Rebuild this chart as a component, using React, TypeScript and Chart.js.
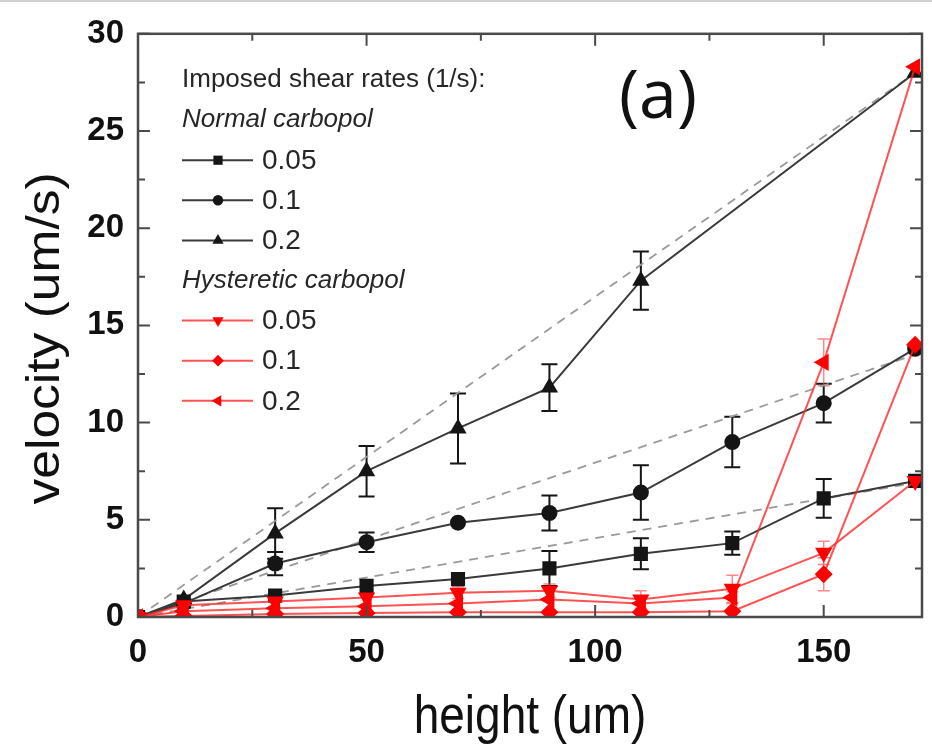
import React, { useEffect, useRef } from 'react';
import { Chart, registerables } from 'chart.js';

Chart.register(...registerables);

// ---------- data ----------
const heights = [0, 10, 30, 50, 70, 90, 110, 130, 150, 170];

const normal005 = [0, 0.8, 1.1, 1.6, 1.95, 2.5, 3.25, 3.8, 6.1, 7.0];
const normal005Err = [0, 0.2, 0.2, 0.2, 0.2, 0.9, 0.8, 0.6, 1.0, 0.2];
const normal01 = [0, 0.7, 2.75, 3.85, 4.85, 5.35, 6.4, 9.0, 11.0, 13.8];
const normal01Err = [0, 0.2, 0.6, 0.5, 0.2, 0.9, 1.4, 1.3, 1.0, 0.2];
const normal02 = [0, 0.9, 4.3, 7.5, 9.7, 11.8, 17.3, null, null, 28.0];
const normal02Err = [0, 0.2, 1.3, 1.3, 1.8, 1.2, 1.5, null, null, 0.2];

const hyst005 = [0, 0.6, 0.8, 1.0, 1.25, 1.35, 0.9, 1.45, 3.3, 7.0];
const hyst005Err = [0, 0.1, 0.15, 0.2, 0.3, 0.35, 0.45, 0.7, 0.6, 0.2];
const hyst01 = [0, 0.05, 0.15, 0.2, 0.25, 0.25, 0.25, 0.3, 2.2, 14.0];
const hyst01Err = [0, 0.1, 0.1, 0.1, 0.1, 0.1, 0.1, 0.2, 0.85, 0.2];
const hyst02 = [0, 0.3, 0.45, 0.55, 0.7, 0.9, 0.7, 1.0, 13.1, 28.3];
const hyst02Err = [0, 0.1, 0.15, 0.2, 0.2, 0.2, 0.3, 0.3, 1.2, 0.2];

const fitHeights = [0, 170];
const fit005 = [0, 6.9];
const fit01 = [0, 13.5];
const fit02 = [0, 28.0];

const xTicks = [0, 50, 100, 150];
const xMinorTicks = [25, 75, 125];
const yTicks = [0, 5, 10, 15, 20, 25, 30];
const yMinorTicks = [2.5, 7.5, 12.5, 17.5, 22.5, 27.5];

const legendHeader = 'Imposed shear rates (1/s):';
const groupTitles = ['Normal carbopol', 'Hysteretic carbopol'];
const rateLabels = ['0.05', '0.1', '0.2'];
const panelLabel = '(a)';
const xTitle = 'height (um)';
const yTitle = 'velocity (um/s)';

// ---------- styles ----------
const SANS = "'Liberation Sans', Arial, sans-serif";
const BLACK = '#151515';
const BLACK_LINE = '#3a3a3a';
const RED = '#ff0000';
const RED_LINE = 'rgba(255,40,40,0.8)';
const RED_ERR = 'rgba(255,70,70,0.65)';

const markerStyles = [
  { style: 'rect', rotation: 0, radius: 10 },
  { style: 'circle', rotation: 0, radius: 8 },
  { style: 'triangle', rotation: 0, radius: 10 },
];
const hystMarkerStyles = [
  { style: 'triangle', rotation: 180, radius: 10 },
  { style: 'rectRot', rotation: 0, radius: 9 },
  { style: 'triangle', rotation: 270, radius: 10 },
];

const toPoints = (xs: number[], ys: (number | null)[]) =>
  xs.map((x, i) => ({ x, y: ys[i] })).filter((p) => p.y !== null) as { x: number; y: number }[];

function drawMarker(ctx: CanvasRenderingContext2D, style: string, rotation: number, x: number, y: number, r: number, color: string) {
  ctx.save();
  ctx.fillStyle = color;
  ctx.beginPath();
  if (style === 'circle') {
    ctx.arc(x, y, r, 0, Math.PI * 2);
  } else if (style === 'rect') {
    const s = r / Math.SQRT2;
    ctx.rect(x - s, y - s, 2 * s, 2 * s);
  } else if (style === 'rectRot') {
    ctx.moveTo(x, y - r);
    ctx.lineTo(x + r, y);
    ctx.lineTo(x, y + r);
    ctx.lineTo(x - r, y);
    ctx.closePath();
  } else if (style === 'triangle') {
    let a = (rotation * Math.PI) / 180;
    ctx.moveTo(x + Math.sin(a) * r, y - Math.cos(a) * r);
    for (let k = 0; k < 2; k++) {
      a += (2 * Math.PI) / 3;
      ctx.lineTo(x + Math.sin(a) * r, y - Math.cos(a) * r);
    }
    ctx.closePath();
  }
  ctx.fill();
  ctx.restore();
}

const errorSets = [
  { values: normal005, errors: normal005Err, color: BLACK, width: 2, cap: 8 },
  { values: normal01, errors: normal01Err, color: BLACK, width: 2, cap: 8 },
  { values: normal02, errors: normal02Err, color: BLACK, width: 2, cap: 8 },
  { values: hyst005, errors: hyst005Err, color: RED_ERR, width: 1.5, cap: 6 },
  { values: hyst01, errors: hyst01Err, color: RED_ERR, width: 1.5, cap: 6 },
  { values: hyst02, errors: hyst02Err, color: RED_ERR, width: 1.5, cap: 6 },
];

const errorPlugin = {
  id: 'errorBars',
  beforeDatasetsDraw(chart: any) {
    const { ctx, scales, chartArea } = chart;
    const xs = scales.x;
    const ys = scales.y;
    ctx.save();
    ctx.beginPath();
    ctx.rect(chartArea.left, chartArea.top - 10, chartArea.right - chartArea.left, chartArea.bottom - chartArea.top + 10);
    ctx.clip();
    errorSets.forEach((set) => {
      ctx.strokeStyle = set.color;
      ctx.lineWidth = set.width;
      set.values.forEach((v, i) => {
        const e = set.errors[i];
        if (v === null || e === null || !e || e < 0.25) return;
        const px = xs.getPixelForValue(heights[i]);
        const top = ys.getPixelForValue((v as number) + (e as number));
        const bot = ys.getPixelForValue((v as number) - (e as number));
        ctx.beginPath();
        ctx.moveTo(px, top);
        ctx.lineTo(px, bot);
        ctx.moveTo(px - set.cap, top);
        ctx.lineTo(px + set.cap, top);
        ctx.moveTo(px - set.cap, bot);
        ctx.lineTo(px + set.cap, bot);
        ctx.stroke();
      });
    });
    ctx.restore();
  },
};

const framePlugin = {
  id: 'frame',
  afterDatasetsDraw(chart: any) {
    const { ctx, chartArea, scales } = chart;
    const { left, right, top, bottom } = chartArea;
    ctx.save();
    ctx.strokeStyle = '#4a4a4a';
    ctx.lineWidth = 2.5;
    ctx.strokeRect(left, top, right - left, bottom - top);
    ctx.lineWidth = 2;
    const major = 12;
    const minor = 7;
    ctx.beginPath();
    const xt = (vals: number[], len: number) =>
      vals.forEach((v) => {
        const px = scales.x.getPixelForValue(v);
        ctx.moveTo(px, bottom);
        ctx.lineTo(px, bottom - len);
        ctx.moveTo(px, top);
        ctx.lineTo(px, top + len);
      });
    const yt = (vals: number[], len: number) =>
      vals.forEach((v) => {
        const py = scales.y.getPixelForValue(v);
        ctx.moveTo(left, py);
        ctx.lineTo(left + len, py);
        ctx.moveTo(right, py);
        ctx.lineTo(right - len, py);
      });
    xt(xTicks, major);
    xt(xMinorTicks, minor);
    yt(yTicks, major);
    yt(yMinorTicks, minor);
    ctx.stroke();
    ctx.strokeStyle = '#d0d0d0';
    ctx.lineWidth = 2;
    ctx.beginPath();
    ctx.moveTo(0, 1);
    ctx.lineTo(chart.width, 1);
    ctx.stroke();
    ctx.restore();
  },
};

// axis titles: the source figure is stretched vertically, so the text is drawn with that stretch
const titlePlugin = {
  id: 'axisTitles',
  afterDraw(chart: any) {
    const ctx = chart.ctx as CanvasRenderingContext2D;
    const { chartArea } = chart;
    ctx.save();
    ctx.fillStyle = '#111';
    ctx.font = `46px ${SANS}`;
    ctx.textAlign = 'center';
    ctx.textBaseline = 'middle';
    // x title
    ctx.save();
    ctx.translate((chartArea.left + chartArea.right) / 2, 718);
    ctx.scale(1, 1.18);
    ctx.fillText(xTitle, 0, 0);
    ctx.restore();
    // y title
    ctx.save();
    ctx.translate(46, (chartArea.top + chartArea.bottom) / 2 + 13);
    ctx.rotate(-Math.PI / 2);
    ctx.scale(1.12, 1);
    ctx.fillText(yTitle, 0, 0);
    ctx.restore();
    ctx.restore();
  },
};

const legendPlugin = {
  id: 'customLegend',
  afterDraw(chart: any) {
    const ctx = chart.ctx as CanvasRenderingContext2D;
    const x0 = 182;
    const lineEnd = 253;
    const markX = 218;
    const textX = 262;
    const y0 = 80;
    const step = 40.1;
    ctx.save();
    ctx.textBaseline = 'middle';
    ctx.textAlign = 'left';
    ctx.fillStyle = '#262626';
    ctx.font = `26px ${SANS}`;
    ctx.fillText(legendHeader, x0, y0);
    let row = 1;
    groupTitles.forEach((g, gi) => {
      ctx.font = `italic 26px ${SANS}`;
      ctx.fillStyle = '#262626';
      ctx.fillText(g, x0, y0 + row * step);
      row++;
      rateLabels.forEach((lab, li) => {
        const y = y0 + row * step;
        const col = gi === 0 ? BLACK : RED;
        const lineCol = gi === 0 ? BLACK_LINE : RED_LINE;
        ctx.strokeStyle = lineCol;
        ctx.lineWidth = 2;
        ctx.beginPath();
        ctx.moveTo(x0, y);
        ctx.lineTo(lineEnd, y);
        ctx.stroke();
        const m = gi === 0 ? markerStyles[li] : hystMarkerStyles[li];
        drawMarker(ctx, m.style, m.rotation, markX, y, m.radius * 0.65, col);
        ctx.fillStyle = '#262626';
        ctx.font = `28px ${SANS}`;
        ctx.fillText(lab, textX, y + 1);
        row++;
      });
    });
    ctx.font = `68px 'Open Sans', sans-serif`;
    ctx.fillStyle = '#111';
    ctx.textAlign = 'center';
    ctx.fillText(panelLabel, 658, 99);
    ctx.restore();
  },
};

export default function App() {
  const ref = useRef<HTMLCanvasElement | null>(null);

  useEffect(() => {
    document.body.style.margin = '0';
    if (!ref.current) return;

    const normalSets = [normal005, normal01, normal02].map((vals, i) => ({
      label: 'Normal ' + rateLabels[i],
      data: toPoints(heights, vals),
      borderColor: BLACK_LINE,
      backgroundColor: BLACK,
      borderWidth: 2,
      pointStyle: markerStyles[i].style,
      rotation: markerStyles[i].rotation,
      pointRadius: markerStyles[i].radius,
      pointBorderWidth: 0,
      pointBackgroundColor: BLACK,
      order: 2,
    }));
    const hystSets = [hyst005, hyst01, hyst02].map((vals, i) => ({
      label: 'Hysteretic ' + rateLabels[i],
      data: toPoints(heights, vals),
      borderColor: RED_LINE,
      backgroundColor: RED,
      borderWidth: 2,
      pointStyle: hystMarkerStyles[i].style,
      rotation: hystMarkerStyles[i].rotation,
      pointRadius: hystMarkerStyles[i].radius,
      pointBorderWidth: 0,
      pointBackgroundColor: RED,
      order: 1,
    }));
    const fitSets = [fit005, fit01, fit02].map((vals, i) => ({
      label: 'fit ' + rateLabels[i],
      data: toPoints(fitHeights, vals),
      borderColor: '#9a9a9a',
      borderWidth: 1.8,
      borderDash: [9, 7],
      pointRadius: 0,
      order: 3,
    }));

    const tickFont = { family: SANS, size: 33, weight: 'bold' };

    const chart = new Chart(ref.current, {
      type: 'line',
      data: { datasets: [...fitSets, ...normalSets, ...hystSets] as any },
      options: {
        animation: false,
        responsive: false,
        layout: { padding: { top: 31, right: 2, left: 0, bottom: 0 } },
        plugins: { legend: { display: false }, tooltip: { enabled: false } },
        scales: {
          x: {
            type: 'linear',
            min: 0,
            max: 171.5,
            afterFit: (s: any) => {
              s.height = 132;
            },
            afterBuildTicks: (s: any) => {
              s.ticks = xTicks.map((v) => ({ value: v }));
            },
            grid: { display: false, drawTicks: false },
            border: { display: false },
            ticks: { padding: 16, color: '#111', font: tickFont, maxRotation: 0 },
            title: { display: false, text: xTitle },
          },
          y: {
            type: 'linear',
            min: 0,
            max: 30,
            afterFit: (s: any) => {
              s.width = 138;
            },
            afterBuildTicks: (s: any) => {
              s.ticks = yTicks.map((v) => ({ value: v }));
            },
            grid: { display: false, drawTicks: false },
            border: { display: false },
            ticks: { padding: 14, color: '#111', font: tickFont },
            title: { display: false, text: yTitle },
          },
        },
      } as any,
      plugins: [errorPlugin, framePlugin, titlePlugin, legendPlugin],
    });

    return () => chart.destroy();
  }, []);

  return (
    <div style={{ width: 932, height: 749, background: '#fff' }}>
      <canvas ref={ref} width={932} height={749} style={{ display: 'block', width: 932, height: 749 }} />
    </div>
  );
}
